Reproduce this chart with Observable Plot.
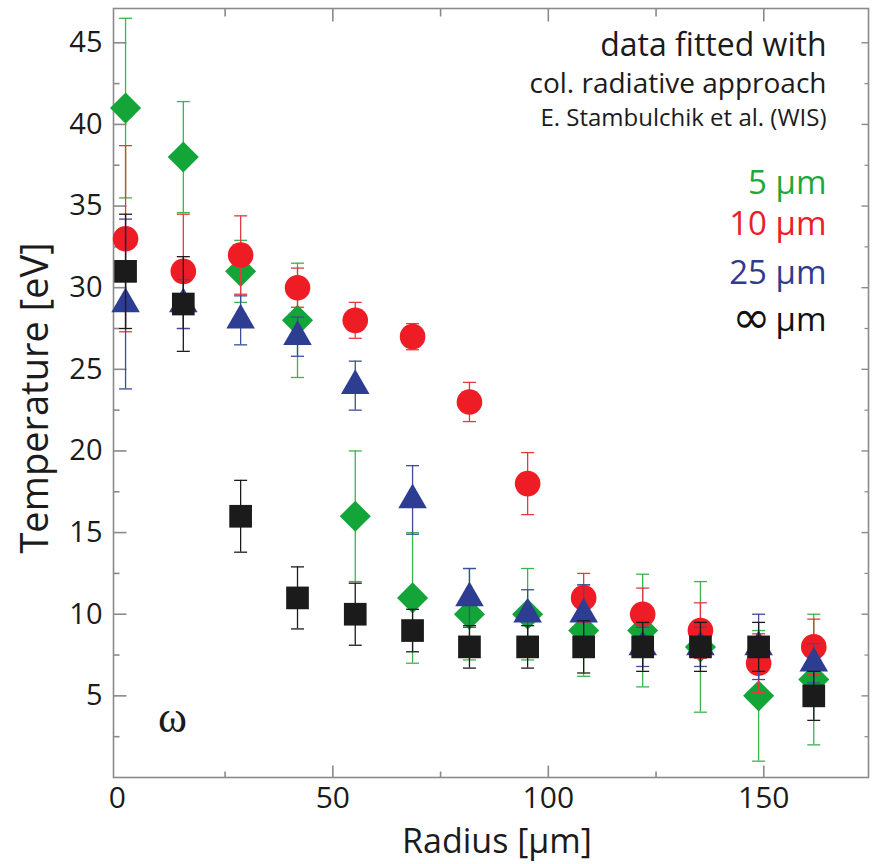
<!DOCTYPE html>
<html><head><meta charset="utf-8">
<script src="https://cdn.jsdelivr.net/npm/d3@7"></script>
<script src="https://cdn.jsdelivr.net/npm/@observablehq/plot@0.6"></script>
<style>
body{margin:0;background:#fff;}
#chart svg{display:block;}
</style>
</head><body><div id="chart"></div>
<script>
// ---- data ----
const radius = [1.9, 15.3, 28.6, 41.8, 55.2, 68.5, 81.7, 95.2, 108.2, 121.9, 135.3, 148.8, 161.6];

const temp5   = [41, 38, 31, 28, 16, 11, 10, 10, 9, 9, 8, 5, 6];
const err5    = [5.5, 3.4, 1.9, 3.5, 4, 4, 2.8, 2.8, 2.8, 3.45, 4, 4, 4];

const temp10  = [33, 31, 32, 30, 28, 27, 23, 18, 11, 10, 9, 7, 8];
const err10   = [5.7, 3.5, 2.4, 1.2, 1.1, 0.8, 1.2, 1.9, 1.5, 1.6, 1.7, 1.8, 1.7];

const temp25  = [29, 29, 28, 27, 24, 17, 11, 10, 10, 8, 8, 8, 7];
const err25   = [5.2, 1.5, 1.5, 1.2, 1.5, 2.1, 1.8, 1.5, 1.8, 1.2, 1.2, 2, 1.2];

const tempInf = [31, 29, 16, 11, 10, 9, 8, 8, 8, 8, 8, 8, 5];
const errInf  = [3.5, 2.9, 2.2, 1.9, 1.9, 1.3, 1.3, 1.3, 1.6, 1.5, 1.5, 1.5, 1.5];

const seriesNames = ["5 µm", "10 µm", "25 µm", "∞ µm"];
const xTickLabels = [0, 50, 100, 150];
const yTickLabels = [5, 10, 15, 20, 25, 30, 35, 40, 45];
const noteLines = ["data fitted with", "col. radiative approach", "E. Stambulchik et al. (WIS)"];

// ---- styles ----
const seriesStyle = [
  {name: seriesNames[0], t: temp5,   e: err5,   symbol: "diamond2", r: 14,   fill: "#13a538", bar: "#3cb34e"},
  {name: seriesNames[1], t: temp10,  e: err10,  symbol: "circle",   r: 12.8, fill: "#ee1c25", bar: "#e23a40"},
  {name: seriesNames[2], t: temp25,  e: err25,  symbol: "triangle", r: 10.6, fill: "#2d3e92", bar: "#3d4c9b"},
  {name: seriesNames[3], t: tempInf, e: errInf, symbol: "square",   r: 12.8, fill: "#1b1b1b", bar: "#1b1b1b"}
];

const line = (x0, y0, x1, y1) => ({draw(ctx) { ctx.moveTo(x0, y0); ctx.lineTo(x1, y1); }});
const capSym = line(-6.5, 0, 6.5, 0);
const axisCol = "#8a8a8a";

const marks = [Plot.frame({stroke: axisCol, strokeWidth: 1.6})];

// inward ticks on all four sides
const yMajor = yTickLabels;
const yMinor = d3.range(2.5, 47, 5);
const xMajor = [50, 100, 150];
const xMinor = [25, 75, 125];
marks.push(
  Plot.dot(yMajor, {y: d => d, frameAnchor: "left", symbol: line(0, 0, 13, 0), stroke: axisCol, strokeWidth: 1.6, fill: "none"}),
  Plot.dot(yMinor, {y: d => d, frameAnchor: "left", symbol: line(0, 0, 6, 0), stroke: axisCol, strokeWidth: 1.6, fill: "none"}),
  Plot.dot(yMajor, {y: d => d, frameAnchor: "right", symbol: line(0, 0, -7, 0), stroke: axisCol, strokeWidth: 1.4, fill: "none"}),
  Plot.dot(yMinor, {y: d => d, frameAnchor: "right", symbol: line(0, 0, -4, 0), stroke: axisCol, strokeWidth: 1.2, fill: "none"}),
  Plot.dot(xMajor, {x: d => d, frameAnchor: "bottom", symbol: line(0, 0, 0, -12), stroke: axisCol, strokeWidth: 1.6, fill: "none"}),
  Plot.dot(xMinor, {x: d => d, frameAnchor: "bottom", symbol: line(0, 0, 0, -6), stroke: axisCol, strokeWidth: 1.6, fill: "none"}),
  Plot.dot(xMajor, {x: d => d, frameAnchor: "top", symbol: line(0, 0, 0, 13), stroke: axisCol, strokeWidth: 1.6, fill: "none"}),
  Plot.dot(xMinor, {x: d => d, frameAnchor: "top", symbol: line(0, 0, 0, 8), stroke: axisCol, strokeWidth: 1.6, fill: "none"})
);

// tick labels
marks.push(
  Plot.axisY({ticks: yTickLabels, tickSize: 0, tickPadding: 11, label: null, fontSize: 29, tickFormat: d => String(d)}),
  Plot.axisX({ticks: xTickLabels, tickSize: 0, tickPadding: 9, label: null, fontSize: 30, tickFormat: d => String(d)})
);

// series
for (const s of seriesStyle) {
  const rows = radius.map((x, i) => ({x, t: s.t[i], lo: s.t[i] - s.e[i], hi: s.t[i] + s.e[i]}));
  marks.push(
    Plot.ruleX(rows, {x: "x", y1: "lo", y2: "hi", stroke: s.bar, strokeWidth: 1.3}),
    Plot.dot(rows, {x: "x", y: "lo", symbol: capSym, stroke: s.bar, strokeWidth: 1.3, fill: "none"}),
    Plot.dot(rows, {x: "x", y: "hi", symbol: capSym, stroke: s.bar, strokeWidth: 1.3, fill: "none"}),
    Plot.dot(rows, {x: "x", y: "t", symbol: s.symbol, r: s.r, fill: s.fill, stroke: "none"})
  );
}

// axis titles
marks.push(
  Plot.text(["Temperature [eV]"], {frameAnchor: "left", text: d => d, rotate: -90, dx: -66, dy: 5,
    lineAnchor: "bottom", textAnchor: "middle", fontSize: 38, fill: "#1b1b1b"}),
  Plot.text(["Radius [µm]"], {frameAnchor: "bottom", text: d => d, dx: 6, dy: 75,
    lineAnchor: "bottom", textAnchor: "middle", fontSize: 34, fill: "#1b1b1b"})
);

// annotation block (top-right)
const noteSizes = [32, 28, 24];
const noteBase = [47, 84, 117];
noteLines.forEach((txt, i) => marks.push(
  Plot.text([txt], {frameAnchor: "top-right", text: d => d, dx: -42, dy: noteBase[i],
    lineAnchor: "bottom", textAnchor: "end", fontSize: noteSizes[i], fill: "#1b1b1b"})
));
const legendBase = [185, 226, 275, 322];
const legendCol = ["#1ea83a", "#e8202a", "#2e3c8f", "#111111"];
seriesNames.slice(0, 3).forEach((txt, i) => marks.push(
  Plot.text([txt], {frameAnchor: "top-right", text: d => d, dx: -42, dy: legendBase[i],
    lineAnchor: "bottom", textAnchor: "end", fontSize: 33, fill: legendCol[i]})
));
// "∞ µm": the infinity sign is drawn larger, as in the original
const [infSign, infUnit] = seriesNames[3].split(" ");
marks.push(
  Plot.text([infUnit], {frameAnchor: "top-right", text: d => d, dx: -42, dy: legendBase[3],
    lineAnchor: "bottom", textAnchor: "end", fontSize: 33, fill: legendCol[3]}),
  Plot.text([infSign], {frameAnchor: "top-right", text: d => d, dx: -98, dy: legendBase[3] + 2,
    lineAnchor: "bottom", textAnchor: "end", fontSize: 46, fontFamily: "DejaVu Sans", fill: legendCol[3]})
);
marks.push(
  Plot.text(["ω"], {frameAnchor: "bottom-left", text: d => d, dx: 59, dy: -46,
    lineAnchor: "bottom", textAnchor: "middle", fontSize: 44, fontFamily: "Liberation Serif", fill: "#1b1b1b"})
);

const chart = Plot.plot({
  width: 872,
  height: 864,
  marginLeft: 113,
  marginRight: 4,
  marginTop: 8,
  marginBottom: 87,
  style: {fontFamily: "'Open Sans', sans-serif", color: "#1b1b1b", background: "#fff"},
  x: {type: "linear", domain: [-0.9, 174.3]},
  y: {type: "linear", domain: [0, 47.1]},
  marks
});
document.getElementById("chart").appendChild(chart);
</script>
</body></html>
